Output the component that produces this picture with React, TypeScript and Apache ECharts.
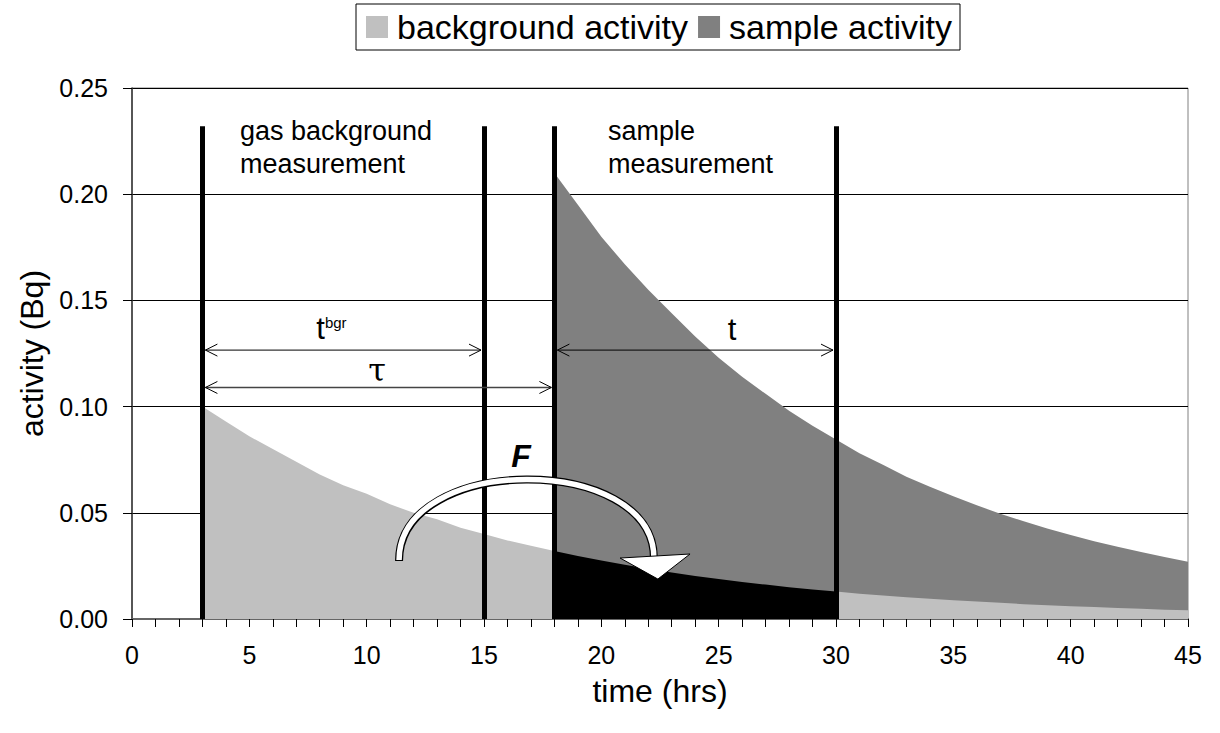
import React, { useEffect, useRef } from "react";
import * as echarts from "echarts";

// ---- data ----
const bgHours = [3, 4, 5, 6, 7, 8, 9, 10, 11, 12, 13, 14, 15, 16, 17, 18, 19, 20, 21, 22, 23, 24, 25, 26, 27, 28, 29, 30, 31, 32, 33, 34, 35, 36, 37, 38, 39, 40, 41, 42, 43, 44, 45];
const bgValues = [0.100, 0.093, 0.086, 0.080, 0.074, 0.068, 0.063, 0.059, 0.054, 0.050, 0.047, 0.043, 0.040, 0.037, 0.0345, 0.032, 0.0297, 0.0275, 0.0255, 0.0236, 0.0219, 0.0203, 0.0188, 0.0174, 0.0162, 0.015, 0.0139, 0.0129, 0.0119, 0.0111, 0.0102, 0.0095, 0.0088, 0.0082, 0.0076, 0.007, 0.0065, 0.006, 0.0056, 0.0052, 0.0048, 0.0044, 0.0041];
const sampleHours = [18, 19, 20, 21, 22, 23, 24, 25, 26, 27, 28, 29, 30, 31, 32, 33, 34, 35, 36, 37, 38, 39, 40, 41, 42, 43, 44, 45];
const sampleValues = [0.210, 0.195, 0.180, 0.167, 0.155, 0.144, 0.133, 0.123, 0.114, 0.106, 0.098, 0.091, 0.0845, 0.078, 0.0726, 0.067, 0.0623, 0.0578, 0.0535, 0.0496, 0.046, 0.0426, 0.0395, 0.0366, 0.034, 0.0315, 0.0292, 0.027];

const measureMarks = [3, 15, 18, 30]; // vertical measurement boundaries (hrs)
const markTop = 0.232;
const sampleStart = 18;
const sampleEnd = 30;

const seriesNames = ["background activity", "sample activity"];
const xTitle = "time (hrs)";
const yTitle = "activity (Bq)";

const FONT = "'Liberation Sans', Arial, sans-serif";

function segment(hours: number[], values: number[], a: number, b: number) {
  const out: number[][] = [];
  hours.forEach((h, i) => {
    if (h >= a && h <= b) out.push([h, values[i]]);
  });
  return out;
}

export default function App() {
  const ref = useRef<HTMLDivElement>(null);

  useEffect(() => {
    document.body.style.margin = "0";
    const chart = echarts.init(ref.current!, undefined, { renderer: "svg" });

    const areaSeries = (name: string, data: number[][], color: string) => ({
      name,
      type: "line",
      data,
      symbol: "none",
      showSymbol: false,
      lineStyle: { width: 0, color },
      itemStyle: { color },
      areaStyle: { color, opacity: 1 },
      silent: true,
    });

    const option: any = {
      animation: false,
      backgroundColor: "#fff",
      textStyle: { fontFamily: FONT, color: "#000" },
      legend: {
        data: [
          { name: seriesNames[0], itemStyle: { color: "#c0c0c0" } },
          { name: seriesNames[1], itemStyle: { color: "#808080" } },
        ],
        left: 356,
        top: 4,
        icon: "rect",
        itemWidth: 22,
        itemHeight: 22,
        itemGap: 10,
        padding: [6, 8, 6, 10],
        borderColor: "#000",
        borderWidth: 1,
        textStyle: { fontSize: 34, color: "#000", fontFamily: FONT, padding: [0, 0, 0, 4] },
        selectedMode: false,
      },
      grid: {
        left: 132,
        right: 32,
        top: 88,
        bottom: 114,
        show: true,
        borderColor: "#808080",
        borderWidth: 1,
        backgroundColor: "transparent",
      },
      xAxis: {
        type: "value",
        min: 0,
        max: 45,
        interval: 5,
        name: xTitle,
        nameLocation: "middle",
        nameGap: 56,
        nameTextStyle: { fontSize: 32, color: "#000", fontFamily: FONT },
        axisLine: { show: true, lineStyle: { color: "#666", width: 2 } },
        axisTick: { show: true, length: 8, lineStyle: { color: "#000" } },
        minorTick: { show: true, splitNumber: 5, length: 8, lineStyle: { color: "#000" } },
        axisLabel: { fontSize: 25, color: "#000", margin: 23, fontFamily: FONT },
        splitLine: { show: false },
      },
      yAxis: {
        type: "value",
        min: 0,
        max: 0.25,
        interval: 0.05,
        name: yTitle,
        nameLocation: "middle",
        nameGap: 82,
        nameTextStyle: { fontSize: 32, color: "#000", fontFamily: FONT },
        axisLine: { show: true, lineStyle: { color: "#333", width: 1.5 } },
        axisTick: { show: true, length: 9, lineStyle: { color: "#000" } },
        axisLabel: {
          fontSize: 25,
          color: "#000",
          margin: 24,
          fontFamily: FONT,
          formatter: (v: number) => v.toFixed(2),
        },
        splitLine: { show: true, lineStyle: { color: "#000", width: 1 } },
      },
      series: [
        areaSeries(seriesNames[1], segment(sampleHours, sampleValues, sampleStart, 45), "#808080"),
        areaSeries(seriesNames[0], segment(bgHours, bgValues, 0, sampleStart), "#c0c0c0"),
        areaSeries("background during sample", segment(bgHours, bgValues, sampleStart, sampleEnd), "#000000"),
        areaSeries(seriesNames[0], segment(bgHours, bgValues, sampleEnd, 45), "#c0c0c0"),
        {
          name: "marks",
          type: "line",
          data: [],
          z: 10,
          silent: true,
          markLine: {
            z: 10,
            silent: true,
            symbol: ["none", "none"],
            label: { show: false },
            lineStyle: { color: "#000", width: 5, type: "solid" },
            data: measureMarks.map((m) => [{ coord: [m, 0] }, { coord: [m, markTop] }]),
          },
        },
      ],
    };

    chart.setOption(option);

    const P = (x: number, y: number) => chart.convertToPixel({ gridIndex: 0 }, [x, y]) as number[];

    const g: any[] = [];
    const dblArrow = (xa: number, xb: number, y: number, color = "#000", w = 1) => {
      const a = P(xa, y);
      const b = P(xb, y);
      const x1 = a[0] + 3;
      const x2 = b[0] - 3;
      const yy = a[1];
      g.push({ type: "line", shape: { x1, y1: yy, x2, y2: yy }, style: { stroke: color, lineWidth: w }, z: 20 });
      g.push({ type: "polyline", shape: { points: [[x1 + 12, yy - 6], [x1, yy], [x1 + 12, yy + 6]] }, style: { stroke: "#000", lineWidth: 1, fill: null }, z: 20 });
      g.push({ type: "polyline", shape: { points: [[x2 - 12, yy - 6], [x2, yy], [x2 - 12, yy + 6]] }, style: { stroke: "#000", lineWidth: 1, fill: null }, z: 20 });
    };
    dblArrow(3, 15, 0.1266);
    dblArrow(3, 18, 0.109, "#444", 1.5);
    dblArrow(18, 30, 0.1266);

    const txt = (x: number, y: number, text: string, style: any) => {
      const p = P(x, y);
      g.push({ type: "text", x: p[0], y: p[1], z: 21, style: { text, fill: "#000", fontFamily: FONT, ...style } });
    };
    txt(4.6, 0.2373, "gas background\nmeasurement", { fontSize: 27, lineHeight: 33, align: "left", verticalAlign: "top", textAlign: "left", textVerticalAlign: "top" });
    txt(20.28, 0.2373, "sample\nmeasurement", { fontSize: 27, lineHeight: 33, align: "left", verticalAlign: "top", textAlign: "left", textVerticalAlign: "top" });
    txt(8.5, 0.1295, "{a|t}{b|bgr}", {
      align: "center", verticalAlign: "bottom", textAlign: "center", textVerticalAlign: "bottom",
      rich: {
        a: { fontSize: 31, fontFamily: FONT, lineHeight: 31, verticalAlign: "bottom" },
        b: { fontSize: 15, fontFamily: FONT, lineHeight: 31, verticalAlign: "top", padding: [2, 0, 0, 0] },
      },
    });
    txt(25.57, 0.1292, "t", { fontSize: 31, align: "center", verticalAlign: "bottom", textAlign: "center", textVerticalAlign: "bottom" });
    txt(10.44, 0.1095, "τ", { fontSize: 32, fontFamily: "'DejaVu Serif', 'Liberation Serif', serif", align: "center", verticalAlign: "bottom", textAlign: "center", textVerticalAlign: "bottom" });
    txt(16.58, 0.0767, "F", { fontSize: 32, fontWeight: "bold", fontStyle: "italic", align: "center", verticalAlign: "middle", textAlign: "center", textVerticalAlign: "middle" });

    // curved "F" transfer arrow
    const s = P(11.38, 0.0273);
    const e = P(22.24, 0.0287);
    const cp = P(0, 0.0782);
    const curve = { x1: s[0], y1: s[1], cpx1: s[0], cpy1: cp[1], cpx2: e[0], cpy2: cp[1], x2: e[0], y2: e[1] };
    g.push({ type: "bezierCurve", shape: curve, style: { stroke: "#000", lineWidth: 8, fill: null, lineCap: "butt" }, z: 22 });
    g.push({ type: "bezierCurve", shape: { ...curve, y1: curve.y1 - 1 }, style: { stroke: "#fff", lineWidth: 5.5, fill: null, lineCap: "butt" }, z: 23 });
    const h1 = P(20.8, 0.0287);
    const h2 = P(23.78, 0.0306);
    const h3 = P(22.41, 0.0188);
    g.push({ type: "polygon", shape: { points: [h1, h2, h3] }, style: { fill: "#fff", stroke: "#000", lineWidth: 1 }, z: 24 });

    chart.setOption({ graphic: g });

    return () => chart.dispose();
  }, []);

  return <div ref={ref} style={{ width: 1220, height: 733 }} />;
}
